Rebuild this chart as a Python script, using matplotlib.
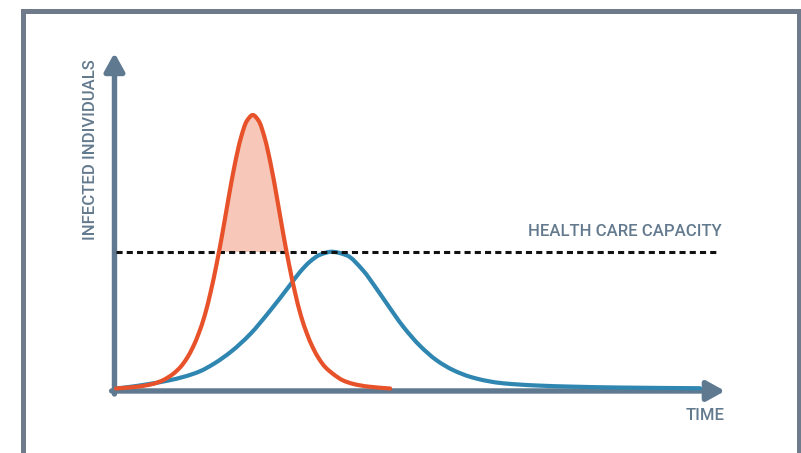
import matplotlib
matplotlib.use("Agg")
import matplotlib.pyplot as plt
from matplotlib import font_manager
from matplotlib.patches import Rectangle, FancyArrowPatch, PathPatch
from matplotlib.path import Path
import numpy as np

# values (time in arbitrary units, infected as % of the tall peak)
orange_t = [0, 3.7, 6.2, 7.8, 9.5, 10.8, 11.8, 12.8, 13.8, 14.8, 15.8, 16.8, 17.8,
            18.8, 19.8, 20.8, 21.8, 22.8, 23.8, 24.8, 25.8, 26.8, 27.8, 28.8, 29.8,
            30.8, 31.8, 32.8, 33.8, 34.8, 36.2, 37.8, 39.5, 42.0, 45.7]
orange_v = [0, 0.7, 1.7, 3.0, 5.3, 8.0, 11.0, 15.0, 20.2, 26.8, 35.5, 45.8, 57.5,
            70.1, 81.9, 91.5, 97.8, 100, 97.8, 91.5, 81.9, 70.1, 57.5, 45.8, 35.5,
            26.8, 20.2, 15.0, 11.0, 8.0, 5.3, 3.0, 1.7, 0.7, 0]

blue_t = [0, 2.33, 4.83, 8.45, 11.5, 14, 16.5, 19.25, 22.33, 25.67, 29, 30.67, 32.33,
          34, 35.95, 38.45, 41.17, 43.45, 45.12, 47.88, 50.67, 53.45, 56.22, 59,
          61.78, 64.55, 70.12, 75.67, 84, 97.33]
blue_v = [0, 0.6, 1.4, 2.8, 4.4, 6.3, 9.3, 13.6, 19.8, 28.4, 37.8, 42.6, 46.4,
          48.9, 50.0, 48.7, 43.2, 36.4, 31.1, 22.6, 15.6, 10.3, 6.7, 4.3,
          2.8, 1.9, 1.1, 0.7, 0.35, 0.1]

capacity = 50.0
capacity_end = 100.2
time_end = 101.5
value_top = 122.7

axis_color = "#5f7a90"
text_color = "#637a8e"
frame_color = "#6f7a8b"
orange = "#e8522a"
blue = "#2e86b1"
fill_color = "#f7c8ba"


def smooth_path(xs, ys, close_to=None):
    # monotone cubic (Fritsch-Carlson) tangents, drawn as bezier segments through the points
    x = np.asarray(xs, float)
    y = np.asarray(ys, float)
    h = np.diff(x)
    d = np.diff(y) / h
    m = np.zeros_like(y)
    m[0], m[-1] = d[0], d[-1]
    for k in range(1, len(x) - 1):
        if d[k - 1] * d[k] > 0:
            w1 = 2 * h[k] + h[k - 1]
            w2 = h[k] + 2 * h[k - 1]
            m[k] = (w1 + w2) / (w1 / d[k - 1] + w2 / d[k])
    verts = [(x[0], y[0])]
    codes = [Path.MOVETO]
    for k in range(len(x) - 1):
        verts += [(x[k] + h[k] / 3, y[k] + m[k] * h[k] / 3),
                  (x[k + 1] - h[k] / 3, y[k + 1] - m[k + 1] * h[k] / 3),
                  (x[k + 1], y[k + 1])]
        codes += [Path.CURVE4] * 3
    if close_to is not None:
        verts += [(x[-1], close_to), (x[0], close_to), (x[0], y[0])]
        codes += [Path.LINETO, Path.LINETO, Path.CLOSEPOLY]
    return Path(verts, codes)


# pick a narrow sans if one is installed
label_font, label_size = "Roboto", 12
for fam, size in [("Liberation Sans Narrow", 13), ("Noto Sans Condensed", 13.3)]:
    try:
        font_manager.findfont(font_manager.FontProperties(family=fam),
                              fallback_to_default=False)
        label_font, label_size = fam, size
        break
    except ValueError:
        pass

fig = plt.figure(figsize=(8.01, 4.53), dpi=100)
ax = fig.add_axes([0, 0, 1, 1])
ax.set_xlim(-19.33, 114.17)
ax.set_ylim(-23.58, 142.05)
ax.axis("off")

# outer frame
fig.patches.append(Rectangle((0.0281, -0.1), 0.9700, 1.0768, transform=fig.transFigure,
                             fill=False, edgecolor=frame_color, linewidth=3.6))

# axes with arrow heads
arrow_style = "-|>,head_length=0.9,head_width=0.5"
ax.add_patch(FancyArrowPatch((-0.25, -2.0), (-0.25, value_top), arrowstyle=arrow_style,
                             mutation_scale=12, color=axis_color, linewidth=3.9,
                             shrinkA=0, shrinkB=0, zorder=1))
ax.add_patch(FancyArrowPatch((-0.72, -0.9), (time_end, -0.9), arrowstyle=arrow_style,
                             mutation_scale=12, color=axis_color, linewidth=3.9,
                             shrinkA=0, shrinkB=0, zorder=1))

# shaded part of the tall curve above capacity
fill = PathPatch(smooth_path(orange_t, orange_v, close_to=0), facecolor=fill_color,
                 edgecolor="none", zorder=2)
ax.add_patch(fill)
clip = Rectangle((orange_t[0], capacity), orange_t[-1] - orange_t[0], 100,
                 transform=ax.transData)
fill.set_clip_path(clip)

ax.add_patch(PathPatch(smooth_path(blue_t, blue_v), fill=False, edgecolor=blue,
                       linewidth=3.0, capstyle="round", joinstyle="round", zorder=3))
ax.plot([0, capacity_end], [capacity, capacity], color="#111111", linewidth=2.2,
        dashes=(2.0, 1.35), zorder=4)
ax.add_patch(PathPatch(smooth_path(orange_t, orange_v), fill=False, edgecolor=orange,
                       linewidth=3.0, capstyle="round", joinstyle="round", zorder=5))

text_kw = dict(color=text_color, fontsize=label_size, family=label_font, fontweight="medium")
ax.text(101.0, 57.4, "HEALTH CARE CAPACITY", ha="right", va="center", **text_kw)
ax.text(time_end, -9.7, "TIME", ha="right", va="center", **text_kw)
ax.text(-4.17, 87.2, "INFECTED INDIVIDUALS", rotation=90, ha="center", va="center",
        **text_kw)

fig.savefig("out.png", dpi=100)
